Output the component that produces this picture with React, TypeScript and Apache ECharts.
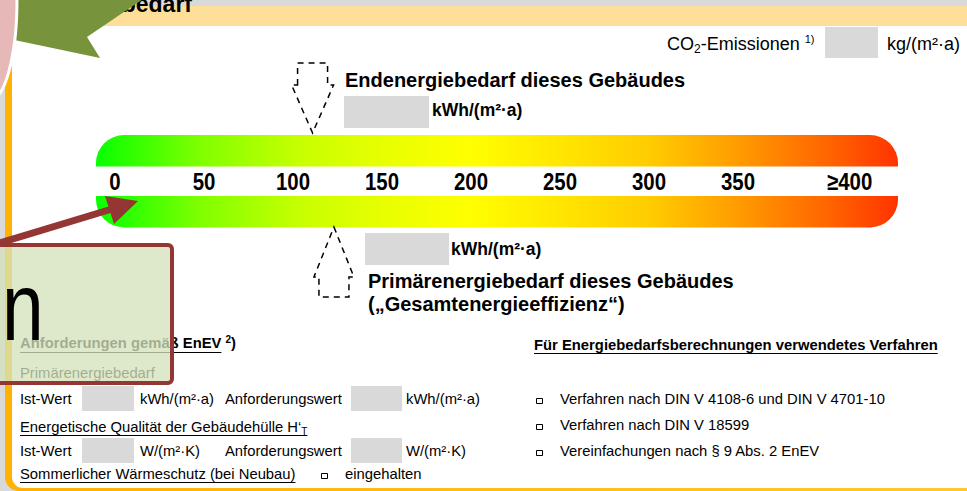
import React, { useEffect, useRef } from "react";
import * as echarts from "echarts";

// ---------- data ----------
const scaleMin = 0;
const scaleMax = 400;
const scaleStep = 50;
const scaleTicks = [0, 50, 100, 150, 200, 250, 300, 350, 400];
const scaleTickLabels = ["0", "50", "100", "150", "200", "250", "300", "350", "≥400"];
const endEnergyMarker = [111];
const primaryEnergyMarker = [123];

const headerTitle = "Energiebedarf";
const co2Label = "CO";
const co2Sub = "2";
const co2Rest = "-Emissionen";
const co2Note = "1)";
const co2Unit = "kg/(m²·a)";
const endTitle = "Endenergiebedarf dieses Gebäudes";
const primTitle = "Primärenergiebedarf dieses Gebäudes";
const primSubtitle = "(„Gesamtenergieeffizienz“)";
const energyUnit = "kWh/(m²·a)";
const reqTitle = "Anforderungen gemäß EnEV";
const reqRows = [
  { label: "Ist-Wert", unit: "kWh/(m²·a)", reqLabel: "Anforderungswert", reqUnit: "kWh/(m²·a)" },
  { label: "Ist-Wert", unit: "W/(m²·K)", reqLabel: "Anforderungswert", reqUnit: "W/(m²·K)" },
];
const reqSection1 = "Primärenergiebedarf";
const reqSection2 = "Energetische Qualität der Gebäudehülle H‘";
const summerLabel = "Sommerlicher Wärmeschutz (bei Neubau)";
const summerCheck = "eingehalten";
const methodTitle = "Für Energiebedarfsberechnungen verwendetes Verfahren";
const methodItems = [
  "Verfahren nach DIN V 4108-6 und DIN V 4701-10",
  "Verfahren nach DIN V 18599",
  "Vereinfachungen nach § 9 Abs. 2 EnEV",
];
const overlayLetter = "n";

// ---------- helpers ----------
const FF = '"Liberation Sans", Arial, Helvetica, sans-serif';

let mctx: CanvasRenderingContext2D | null = null;
function measure(text: string, size: number, weight: string) {
  if (!mctx) mctx = document.createElement("canvas").getContext("2d");
  if (!mctx) return text.length * size * 0.55;
  mctx.font = `${weight} ${size}px ${FF}`;
  return mctx.measureText(text).width;
}

function T(x: number, y: number, text: string, size: number, bold = false, z = 10, extra: any = {}) {
  return {
    type: "text",
    x,
    y,
    z,
    silent: true,
    ...extra,
    style: {
      text,
      fill: "#000",
      fontSize: size,
      fontWeight: bold ? "bold" : "normal",
      fontFamily: FF,
      align: "left",
      textAlign: "left",
      verticalAlign: "middle",
      textVerticalAlign: "middle",
      ...(extra.style || {}),
    },
  };
}

type Part = { t: string; size: number; bold?: boolean; dy?: number };
function runs(x0: number, y: number, parts: Part[], z = 10) {
  const els: any[] = [];
  let x = x0;
  for (const p of parts) {
    els.push(T(x, y + (p.dy || 0), p.t, p.size, !!p.bold, z));
    x += measure(p.t, p.size, p.bold ? "bold" : "normal");
  }
  return { els, end: x };
}

function uline(x1: number, x2: number, y: number, z = 10) {
  const yy = Math.round(y) + 0.5;
  return { type: "line", z, silent: true, shape: { x1, y1: yy, x2, y2: yy }, style: { stroke: "#000", lineWidth: 1 } };
}

function box(x: number, y: number, w: number, h: number, z = 5) {
  return { type: "rect", z, silent: true, shape: { x, y, width: w, height: h }, style: { fill: "#D9D9D9" } };
}

function checkbox(x: number, y: number, z = 10) {
  return {
    type: "rect",
    z,
    silent: true,
    shape: { x: x + 0.5, y: Math.round(y - 2) + 0.5, width: 6, height: 5 },
    style: { fill: "#fff", stroke: "#000", lineWidth: 1 },
  };
}

const barGradient = () => ({
  type: "linear",
  x: 0,
  y: 0,
  x2: 1,
  y2: 0,
  colorStops: [
    { offset: 0, color: "#08FF00" },
    { offset: 0.13, color: "#80FF00" },
    { offset: 0.255, color: "#C8FF00" },
    { offset: 0.36, color: "#E8FF00" },
    { offset: 0.466, color: "#FFFF00" },
    { offset: 0.56, color: "#FFEA00" },
    { offset: 0.69, color: "#FFCC00" },
    { offset: 0.8, color: "#FF9C00" },
    { offset: 0.915, color: "#FF6400" },
    { offset: 1, color: "#FF3300" },
  ],
});

function buildGraphics() {
  const els: any[] = [];
  const S = 14.8;

  // frame
  els.push({
    type: "rect",
    z: 0,
    silent: true,
    shape: { x: 5, y: 6, width: 1100, height: 485, r: [0, 0, 0, 14] },
    style: {
      fill: { type: "linear", x: 0, y: 0, x2: 1, y2: 0, colorStops: [{ offset: 0, color: "#FFB200" }, { offset: 1, color: "#FFCC33" }] },
    },
  });
  els.push({ type: "rect", z: 1, silent: true, shape: { x: 12, y: 26, width: 1100, height: 462, r: [0, 0, 0, 11] }, style: { fill: "#FFFFFF" } });
  els.push({ type: "rect", z: 2, silent: true, shape: { x: 5, y: 6, width: 1100, height: 20 }, style: { fill: "#FDDF99" } });
  els.push(T(192, 4, headerTitle, 23, true, 3, { style: { align: "right", textAlign: "right" } }));

  // CO2 line
  const co2 = runs(667, 44, [
    { t: co2Label, size: 18 },
    { t: co2Sub, size: 12, dy: 5 },
    { t: co2Rest, size: 18 },
    { t: " ", size: 18 },
    { t: co2Note, size: 11, dy: -5 },
  ]);
  els.push(...co2.els);
  els.push(box(825, 27, 53, 31));
  els.push(T(887, 44, co2Unit, 18));

  // end energy
  els.push(T(345, 80, endTitle, 20, true));
  els.push(box(344, 96, 85, 32));
  els.push(T(432, 110, energyUnit, 17.5, true));

  // scale bars
  els.push({ type: "rect", z: 5, silent: true, shape: { x: 96, y: 135, width: 802, height: 31.5, r: [28, 28, 0, 0] }, style: { fill: barGradient() } });
  els.push({ type: "rect", z: 5, silent: true, shape: { x: 96, y: 196, width: 802, height: 31.5, r: [0, 0, 28, 28] }, style: { fill: barGradient() } });

  // primary energy
  els.push(box(365, 233, 84, 32));
  els.push(T(451, 249, energyUnit, 17.5, true));
  els.push(T(368, 281, primTitle, 20, true));
  els.push(T(368, 304, primSubtitle, 20, true));

  // requirements (left)
  els.push(T(20, 343, reqTitle, S, true));
  const rtW = measure(reqTitle, S, "bold");
  els.push(uline(20, 20 + rtW, 351.5));
  const note2 = runs(20 + rtW, 343, [
    { t: " ", size: S, bold: true },
    { t: "2", size: 10, bold: true, dy: -4 },
    { t: ")", size: S, bold: true },
  ]);
  els.push(...note2.els);

  els.push(T(20, 373, reqSection1, S));
  els.push(uline(20, 20 + measure(reqSection1, S, "normal"), 381.5));

  const rowY = [399, 451];
  reqRows.forEach((r, i) => {
    const y = rowY[i];
    els.push(T(20, y, r.label, S));
    els.push(box(82, y - 13, 52, 25));
    els.push(T(140, y, r.unit, S));
    els.push(T(225, y, r.reqLabel, S));
    els.push(box(351, y - 13, 51, 25));
    els.push(T(406, y, r.reqUnit, S));
  });

  const sec2 = runs(20, 427, [
    { t: reqSection2, size: S },
    { t: "T", size: 10, dy: 4 },
  ]);
  els.push(...sec2.els);
  els.push(uline(20, sec2.end, 434.5));

  els.push(T(20, 474, summerLabel, S));
  els.push(uline(20, 20 + measure(summerLabel, S, "normal"), 481.5));
  els.push(checkbox(321, 475));
  els.push(T(345, 474, summerCheck, S));

  // methods (right)
  els.push(T(534, 345, methodTitle, S, true));
  els.push(uline(534, 534 + measure(methodTitle, S, "bold"), 352.5));
  const mY = [399, 425, 451];
  methodItems.forEach((m, i) => {
    els.push(checkbox(536, mY[i] + 1));
    els.push(T(560, mY[i], m, S));
  });

  // ---------- overlays ----------
  els.push({
    type: "polygon",
    z: 100,
    silent: true,
    shape: { points: [[-5, -5], [149, -5], [87, 37], [100, 58], [-5, 36]] },
    style: { fill: "#77933C" },
  });
  els.push({
    type: "ellipse",
    z: 101,
    silent: true,
    shape: { cx: -10, cy: 0, rx: 27, ry: 100 },
    style: { fill: "#E6B9B8", stroke: "#FFFFFF", lineWidth: 3 },
  });
  els.push({
    type: "rect",
    z: 100,
    silent: true,
    shape: { x: -10, y: 245, width: 182, height: 138, r: 4 },
    style: { fill: "rgba(212,226,186,0.76)", stroke: "#943634", lineWidth: 4 },
  });
  els.push({
    type: "text",
    z: 102,
    silent: true,
    x: 2,
    y: 307,
    scaleX: 0.78,
    style: {
      text: overlayLetter,
      fill: "#000",
      fontSize: 96,
      fontFamily: FF,
      align: "left",
      textAlign: "left",
      verticalAlign: "middle",
      textVerticalAlign: "middle",
    },
  });
  els.push({
    type: "line",
    z: 103,
    silent: true,
    shape: { x1: -20, y1: 249, x2: 112, y2: 209 },
    style: { stroke: "#943634", lineWidth: 7 },
  });
  els.push({
    type: "polygon",
    z: 103,
    silent: true,
    shape: { points: [[138, 201], [105, 196], [114, 224]] },
    style: { fill: "#943634" },
  });
  return els;
}

const dashStyle = { fill: "transparent", stroke: "#000", lineWidth: 1.5, lineDash: [6, 5] };

export default function App() {
  const ref = useRef<HTMLDivElement>(null);
  useEffect(() => {
    if (!ref.current) return;
    const chart = echarts.init(ref.current, undefined, { renderer: "svg" });
    chart.setOption({
      animation: false,
      backgroundColor: "#D9D9D9",
      grid: { left: 115, right: 140, top: 135, height: 31, containLabel: false },
      xAxis: {
        type: "value",
        min: scaleMin,
        max: scaleMax,
        interval: scaleStep,
        axisLine: { show: false },
        axisTick: { show: false },
        splitLine: { show: false },
        axisLabel: { show: false },
      },
      yAxis: { type: "value", min: 0, max: 1, show: false },
      series: [
        {
          // scale labels positioned through the x axis
          type: "custom",
          coordinateSystem: "cartesian2d",
          silent: true,
          clip: false,
          z: 20,
          data: scaleTicks.map((v, i) => [v, 0, i]),
          renderItem: (_p: any, api: any) => {
            const v = api.value(0);
            const idx = api.value(2);
            const cx = api.coord([v, 0])[0];
            const last = idx === scaleTicks.length - 1;
            return {
              type: "text",
              x: cx,
              y: 182,
              scaleX: 0.85,
              style: {
                text: scaleTickLabels[idx],
                fill: "#000",
                fontSize: 24,
                fontWeight: "bold",
                fontFamily: FF,
                align: last ? "left" : "center",
                verticalAlign: "middle",
              },
            };
          },
        },
        {
          type: "custom",
          coordinateSystem: "cartesian2d",
          silent: true,
          clip: false,
          z: 20,
          data: endEnergyMarker.map((v) => [v, 0]),
          renderItem: (_p: any, api: any) => {
            const cx = api.coord([api.value(0), 0])[0];
            return {
              type: "polygon",
              shape: {
                points: [
                  [cx - 15, 85], [cx - 15, 63], [cx + 15, 63], [cx + 15, 85],
                  [cx + 21, 85], [cx, 133], [cx - 21, 85],
                ],
              },
              style: dashStyle,
            };
          },
        },
        {
          type: "custom",
          coordinateSystem: "cartesian2d",
          silent: true,
          clip: false,
          z: 20,
          data: primaryEnergyMarker.map((v) => [v, 0]),
          renderItem: (_p: any, api: any) => {
            const cx = api.coord([api.value(0), 0])[0];
            return {
              type: "polygon",
              shape: {
                points: [
                  [cx, 227], [cx + 20, 277], [cx + 15, 277], [cx + 15, 297],
                  [cx - 15, 297], [cx - 15, 277], [cx - 20, 277],
                ],
              },
              style: dashStyle,
            };
          },
        },
      ],
      graphic: { elements: buildGraphics() },
    });
    return () => chart.dispose();
  }, []);
  return <div ref={ref} style={{ position: "fixed", left: 0, top: 0, width: 967, height: 491 }} />;
}
